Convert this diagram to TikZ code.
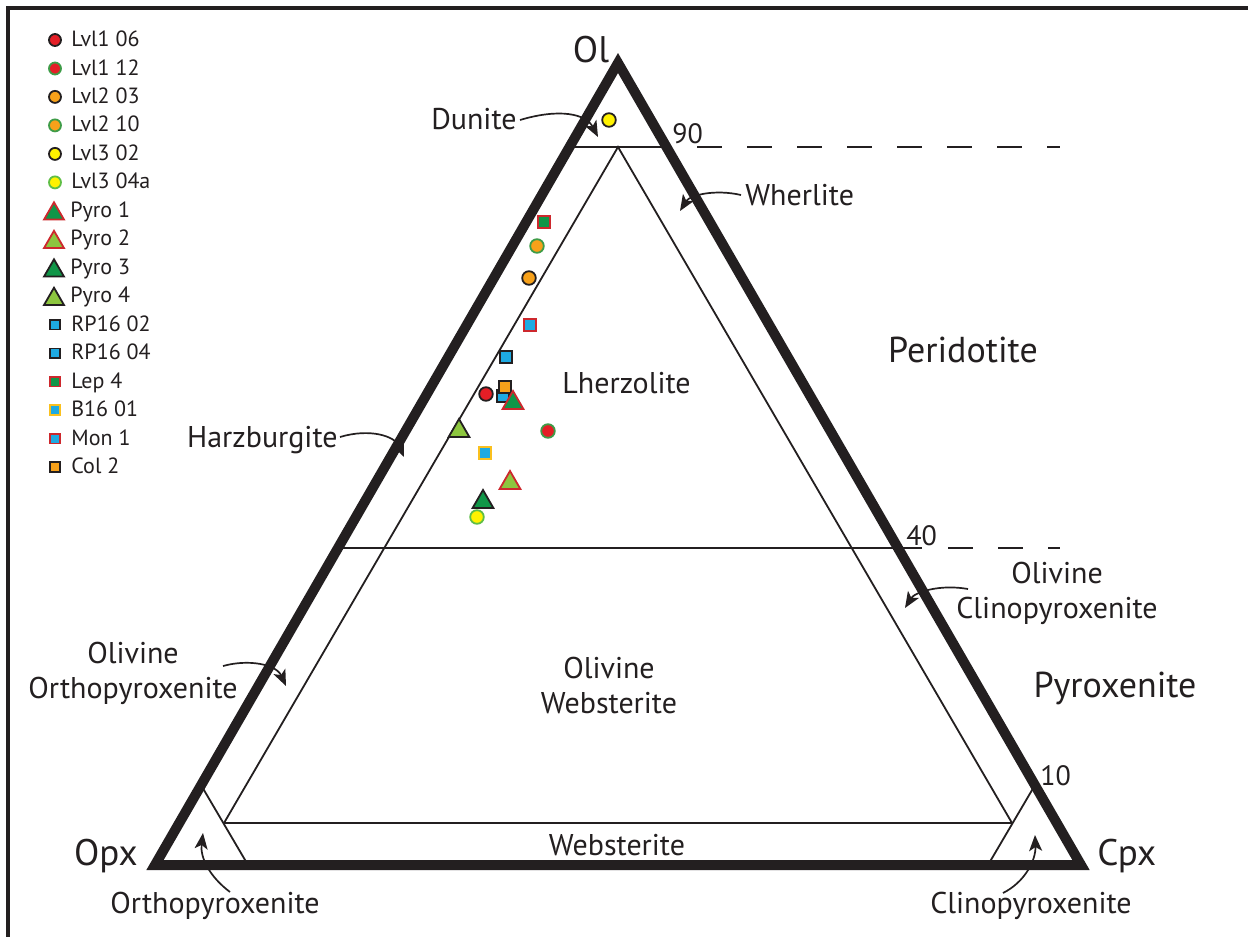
\documentclass[tikz,border=0pt]{standalone}
\usepackage{fontspec}
\setmainfont{PT Sans}
\usetikzlibrary{shapes.geometric,arrows.meta}
\definecolor{ink}{RGB}{35,31,32}
\definecolor{mred}{RGB}{228,30,38}
\definecolor{mgrn}{RGB}{62,156,72}
\definecolor{lgrn}{RGB}{95,190,70}
\definecolor{morange}{RGB}{247,161,26}
\definecolor{myellow}{RGB}{255,242,0}
\definecolor{dkgreen}{RGB}{16,150,72}
\definecolor{ltgreen}{RGB}{141,198,63}
\definecolor{mblue}{RGB}{30,170,226}
\definecolor{tred}{RGB}{205,40,45}
\definecolor{byel}{RGB}{250,192,30}
\begin{document}
\begin{tikzpicture}[x=0.5pt,y=-0.5pt,
  every node/.style={text=ink},
  lab/.style={inner sep=0pt, font=\fontsize{15}{17.5}\selectfont},
  big/.style={inner sep=0pt, font=\fontsize{18}{21}\selectfont},
  vtx/.style={inner sep=0pt, font=\fontsize{18.5}{21}\selectfont},
  num/.style={inner sep=0pt, font=\fontsize{14}{16}\selectfont, anchor=base west},
  leg/.style={inner sep=0pt, font=\fontsize{11}{13}\selectfont, anchor=base west},
  thinline/.style={line width=0.9pt, draw=ink},
  dashline/.style={line width=0.9pt, draw=ink, dash pattern=on 12.5pt off 12.5pt},
  outer/.style={line width=5pt, draw=ink, line join=miter},
  arr/.style={-{Stealth[length=8pt,width=6.5pt,inset=2pt]}, line width=0.85pt, draw=ink},
  mk/.style={inner sep=0pt, line width=0.9pt},
  cir/.style 2 args={mk, circle, fill=#1, draw=#2, minimum size=6.8pt},
  tri/.style 2 args={mk, regular polygon, regular polygon sides=3, fill=#1, draw=#2, minimum size=12pt},
  sq/.style 2 args={mk, rectangle, fill=#1, draw=#2, minimum size=5.8pt},
  lc/.style={minimum size=6pt},
  ltr/.style={minimum size=11.5pt},
  lsq/.style={minimum size=4.8pt}
]
\fill[white] (0,0) rectangle (1248,937);
\useasboundingbox (0,0) rectangle (1248,937);

% frame
\draw[line width=2pt, ink] (8,937) -- (8,8) -- (1248,8);

% vertices
\coordinate (A) at (618,63);
\coordinate (B) at (155,865);
\coordinate (C) at (1081,865);

% thin field boundaries
\draw[thinline] (569,147) -- (667,147);
\draw[dashline] (697,147) -- (1060,147);
\draw[thinline] (338,548) -- (922,548);
\draw[dashline] (948,548) -- (1060,548);
\coordinate (I) at (618,147);
\coordinate (IL) at (224,823);
\coordinate (IR) at (1012,823);
\draw[thinline] (IL) -- (I) -- (IR);
\draw[thinline] (IL) -- (IR);
\draw[thinline] (248,865) -- (201,785);
\draw[thinline] (988,865) -- (1035,785);

% labels
\node[vtx, anchor=base] (lOl) at (591,62) {Ol};
\node[vtx, anchor=base east] (lOpx) at (138,865) {Opx};
\node[vtx, anchor=base west] (lCpx) at (1097,865) {Cpx};
\node[num] (n90) at (672,143) {90};
\node[num] (n40) at (906,545) {40};
\node[num] (n10) at (1040,785) {10};
\node[lab, anchor=base east] (lDun) at (517,129) {Dunite};
\node[lab, anchor=base west] (lWhe) at (745,205) {Wherlite};
\node[big, anchor=base] (lPer) at (963,362) {Peridotite};
\node[lab, anchor=base west] (lLhz) at (562,393) {Lherzolite};
\node[lab, anchor=base east] (lHzb) at (338,447) {Harzburgite};
\node[lab, align=center] (lOCpx) at (1057,593) {Olivine\\Clinopyroxenite};
\node[lab, align=center] (lOOpx) at (133,673) {Olivine\\Orthopyroxenite};
\node[lab, align=center] (lOWeb) at (609,685) {Olivine\\Websterite};
\node[big, anchor=base] (lPyx) at (1115,697) {Pyroxenite};
\node[lab, anchor=base] (lWeb) at (617,855) {Websterite};
\node[lab, anchor=base east] (lOpxite) at (320,913) {Orthopyroxenite};
\node[lab, anchor=base east] (lCpxite) at (1132,913) {Clinopyroxenite};

% outer triangle
\draw[outer] (A) -- (B) -- (C) -- cycle;

% arrows
\coordinate (aDs) at (520,120); \coordinate (aDt) at (598,137);
\draw[arr] (aDs) .. controls (560,108) and (586,114) .. (aDt);
\coordinate (aWs) at (741,195); \coordinate (aWt) at (680,211);
\draw[arr] (aWs) .. controls (715,189) and (690,195) .. (aWt);
\coordinate (aHs) at (340,437); \coordinate (aHt) at (404,457);
\draw[arr] (aHs) .. controls (370,428) and (395,436) .. (aHt);
\coordinate (aCs) at (968,589); \coordinate (aCt) at (905,608);
\draw[arr] (aCs) .. controls (940,584) and (915,592) .. (aCt);
\coordinate (aOs) at (223,666); \coordinate (aOt) at (286,686);
\draw[arr] (aOs) .. controls (248,659) and (276,664) .. (aOt);
\coordinate (aBs) at (230,892); \coordinate (aBt) at (203,833);
\draw[arr] (aBs) .. controls (210,877) and (200,858) .. (aBt);
\coordinate (aRs) at (1003,893); \coordinate (aRt) at (1035,835);
\draw[arr] (aRs) .. controls (1025,882) and (1036,860) .. (aRt);

% data points
\node[cir={myellow}{ink}] (p5) at (609,120) {};
\node[sq={dkgreen}{tred}] (p13) at (544,222) {};
\node[cir={morange}{mgrn}] (p4) at (537,246) {};
\node[cir={morange}{ink}] (p3) at (529,278) {};
\node[sq={mblue}{tred}] (p15) at (530,325) {};
\node[sq={mblue}{ink}] (p11) at (506,357) {};
\node[sq={mblue}{ink}] (p12) at (503,396) {};
\node[sq={morange}{ink}] (p16) at (505,387) {};
\node[cir={mred}{ink}] (p1) at (486,394) {};
\node[tri={dkgreen}{tred}] (p7) at (513,403) {};
\node[tri={ltgreen}{ink}] (p10) at (459,431) {};
\node[cir={mred}{mgrn}] (p2) at (548,431) {};
\node[sq={mblue}{byel}] (p14) at (485,453) {};
\node[tri={ltgreen}{tred}] (p8) at (510,483) {};
\node[tri={dkgreen}{ink}] (p9) at (483,502) {};
\node[cir={myellow}{lgrn}] (p6) at (477,517) {};

% legend
\node[cir={mred}{ink}, lc] (lm1) at (55,40) {};
\node[leg] (lt1) at (71,46.5) {Lvl1 06};
\node[cir={mred}{mgrn}, lc] (lm2) at (55,68.5) {};
\node[leg] (lt2) at (71,75) {Lvl1 12};
\node[cir={morange}{ink}, lc] (lm3) at (55,96.9) {};
\node[leg] (lt3) at (71,103.4) {Lvl2 03};
\node[cir={morange}{mgrn}, lc] (lm4) at (55,125.4) {};
\node[leg] (lt4) at (71,131.9) {Lvl2 10};
\node[cir={myellow}{ink}, lc] (lm5) at (55,153.9) {};
\node[leg] (lt5) at (71,160.4) {Lvl3 02};
\node[cir={myellow}{lgrn}, lc] (lm6) at (55,182.4) {};
\node[leg] (lt6) at (71,188.9) {Lvl3 04a};
\node[tri={dkgreen}{tred}, ltr] (lm7) at (54,213.8) {};
\node[leg] (lt7) at (70,217.3) {Pyro 1};
\node[tri={ltgreen}{tred}, ltr] (lm8) at (54,242.3) {};
\node[leg] (lt8) at (70,245.8) {Pyro 2};
\node[tri={dkgreen}{ink}, ltr] (lm9) at (54,270.8) {};
\node[leg] (lt9) at (70,274.3) {Pyro 3};
\node[tri={ltgreen}{ink}, ltr] (lm10) at (54,299.2) {};
\node[leg] (lt10) at (70,302.7) {Pyro 4};
\node[sq={mblue}{ink}, lsq] (lm11) at (55,324.7) {};
\node[leg] (lt11) at (71,331.2) {RP16 02};
\node[sq={mblue}{ink}, lsq] (lm12) at (55,353.2) {};
\node[leg] (lt12) at (71,359.7) {RP16 04};
\node[sq={dkgreen}{tred}, lsq] (lm13) at (55,381.6) {};
\node[leg] (lt13) at (71,388.1) {Lep 4};
\node[sq={mblue}{byel}, lsq] (lm14) at (55,410.1) {};
\node[leg] (lt14) at (71,416.6) {B16 01};
\node[sq={mblue}{tred}, lsq] (lm15) at (55,438.6) {};
\node[leg] (lt15) at (71,445.1) {Mon 1};
\node[sq={morange}{ink}, lsq] (lm16) at (55,467) {};
\node[leg] (lt16) at (71,473.5) {Col 2};
\end{tikzpicture}
\end{document}
